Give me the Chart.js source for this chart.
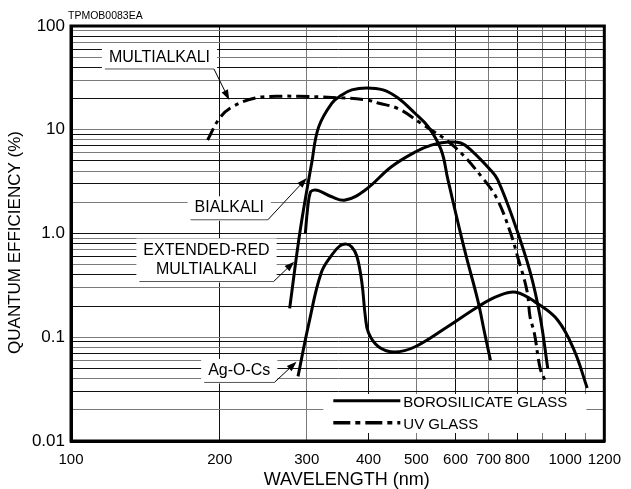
<!DOCTYPE html>
<html>
<head>
<meta charset="utf-8">
<script src="https://cdn.jsdelivr.net/npm/chart.js@4.4.1/dist/chart.umd.min.js"></script>
<style>
  html, body { margin: 0; padding: 0; background: #fff; }
</style>
</head>
<body>
<canvas id="chartQE" width="631" height="489"></canvas>
<script>
"use strict";

// Valores: longitud de onda (nm) y eficiencia cuántica (%)
const bialkaliWl = [277, 291, 307, 317, 337, 353, 370, 396, 428, 459, 496, 528, 561, 579, 626, 665, 687, 706];
const bialkaliQe = [0.19, 1.08, 4.8, 10.6, 18.0, 21.6, 24.2, 25.3, 24.2, 20.2, 14.5, 10.7, 6.4, 3.3, 0.69, 0.23, 0.11, 0.06];

const extRedWl = [298, 301, 305, 310, 317, 337, 359, 394, 445, 497, 536, 580, 615, 644, 706, 730, 789, 850, 890, 922];
const extRedQe = [1.0, 1.7, 2.5, 2.62, 2.59, 2.26, 2.1, 2.63, 4.4, 6.1, 7.1, 7.6, 7.45, 6.4, 4.1, 3.3, 1.27, 0.42, 0.157, 0.05];

const agocsWl = [288, 303, 321, 337, 350, 361, 370, 379, 388, 394, 400, 419, 452, 497, 579, 665, 730, 795, 880, 966, 1042, 1108];
const agocsQe = [0.042, 0.137, 0.42, 0.62, 0.76, 0.79, 0.74, 0.6, 0.33, 0.16, 0.11, 0.081, 0.072, 0.081, 0.127, 0.196, 0.249, 0.272, 0.21, 0.146, 0.0755, 0.0324];

const multiUvWl = [189, 200, 212, 236, 260, 289, 337, 396, 420, 459, 511, 596, 686, 730, 776, 801, 837, 849, 866, 890, 909];
const multiUvQe = [7.96, 13.0, 16.6, 20.2, 21.0, 21.0, 20.5, 19.4, 18.0, 16.0, 11.5, 6.9, 3.27, 2.1, 1.0, 0.6, 0.28, 0.157, 0.11, 0.05, 0.039];

// Ejes
const xGrid = [100, 200, 300, 400, 500, 600, 700, 800, 900, 1000, 1100, 1200];
const xTickLabels = [100, 200, 300, 400, 500, 600, 700, 800, 1000, 1200];
const yTickValues = [0.01, 0.1, 1, 10, 100];
const yTickLabels = ["0.01", "0.1", "1.0", "10", "100"];

// Textos
const xTitle = "WAVELENGTH (nm)";
const yTitle = "QUANTUM EFFICIENCY (%)";
const noteTexts = [["MULTIALKALI"], ["BIALKALI"], ["EXTENDED-RED", "MULTIALKALI"], ["Ag-O-Cs"]];
const glassNames = ["BOROSILICATE GLASS", "UV GLASS"];
const figCode = "TPMOB0083EA";

const FONT = '"Liberation Sans", Arial, Helvetica, sans-serif';
const UV_DASH = [13, 5, 4, 5];

// lineas de grilla 1..9 x 10^n
const yGrid = [];
for (let e = -2; e <= 1; e++) {
  for (let s = 1; s <= 9; s++) yGrid.push(Number((s * Math.pow(10, e)).toPrecision(3)));
}
yGrid.push(100);

function toPoints(wl, qe) {
  return wl.map((w, i) => ({ x: w, y: qe[i] }));
}

function curve(wl, qe, dash) {
  return {
    data: toPoints(wl, qe),
    borderColor: "#000",
    borderWidth: 3,
    borderDash: dash || [],
    pointRadius: 0,
    tension: 0.4,
    fill: false,
  };
}

// posiciones de las notas (en unidades de datos: nm, %)
const notePlaces = [
  { at: [151, 50], tip: [209, 19.4] },
  { at: [209, 1.76], tip: [300, 3.43] },
  { at: [188, 0.555], tip: [283, 0.535] },
  { at: [219, 0.0476], tip: [286, 0.058] },
];

function arrow(ctx, x0, y0, x1, y1) {
  const a = Math.atan2(y1 - y0, x1 - x0);
  const len = 10, half = 3.5;
  const bx = x1 - Math.cos(a) * len, by = y1 - Math.sin(a) * len;
  ctx.beginPath();
  ctx.moveTo(x0, y0);
  ctx.lineTo(bx, by);
  ctx.lineWidth = 1;
  ctx.strokeStyle = "#000";
  ctx.stroke();
  ctx.beginPath();
  ctx.moveTo(x1, y1);
  ctx.lineTo(bx - Math.sin(a) * half, by + Math.cos(a) * half);
  ctx.lineTo(bx + Math.sin(a) * half, by - Math.cos(a) * half);
  ctx.closePath();
  ctx.fillStyle = "#000";
  ctx.fill();
}

const notesPlugin = {
  id: "notes",
  beforeDatasetsDraw(chart) {
    const { ctx, chartArea: ca } = chart;
    const xs = chart.scales.x, ys = chart.scales.y;
    ctx.save();

    // Notas con flecha
    ctx.font = "16px " + FONT;
    const lh = 19.5;
    noteTexts.forEach((lines, i) => {
      const p = notePlaces[i];
      const cx = xs.getPixelForValue(p.at[0]);
      const cy = ys.getPixelForValue(p.at[1]);
      const w = Math.max(...lines.map(t => ctx.measureText(t).width));
      const top = cy - (lines.length * lh) / 2;
      const uy = top + lines.length * lh + 2;
      const ux0 = cx - w / 2 - 4, ux1 = cx + w / 2 + 4;

      ctx.fillStyle = "#fff";
      ctx.fillRect(ux0 - 3, top - 2, ux1 - ux0 + 6, uy - top + 3);

      ctx.fillStyle = "#000";
      ctx.textAlign = "center";
      ctx.textBaseline = "middle";
      lines.forEach((t, k) => ctx.fillText(t, cx, top + lh * k + lh / 2));

      ctx.beginPath();
      ctx.moveTo(ux0, uy);
      ctx.lineTo(ux1, uy);
      ctx.lineWidth = 1;
      ctx.strokeStyle = "#555";
      ctx.stroke();

      arrow(ctx, ux1, uy, xs.getPixelForValue(p.tip[0]), ys.getPixelForValue(p.tip[1]));
    });

    // Leyenda (tipo de vidrio)
    const bx = ca.right - 281, by = ca.bottom - 47;
    ctx.fillStyle = "#fff";
    ctx.fillRect(bx, by, 263, 39);
    ctx.font = "15px " + FONT;
    ctx.textAlign = "left";
    ctx.textBaseline = "middle";
    glassNames.forEach((name, i) => {
      const ly = by + 6.7 + i * 22;
      ctx.beginPath();
      ctx.setLineDash(i === 0 ? [] : [17, 5, 5, 5]);
      ctx.moveTo(bx + 10, ly);
      ctx.lineTo(bx + 77, ly);
      ctx.lineWidth = i === 0 ? 3 : 3.5;
      ctx.strokeStyle = "#000";
      ctx.stroke();
      ctx.setLineDash([]);
      ctx.fillStyle = "#000";
      ctx.fillText(name, bx + 80, ly + 2);
    });

    ctx.restore();
  },
  afterDraw(chart) {
    const { ctx, chartArea: ca } = chart;
    ctx.save();
    ctx.lineWidth = 3;
    ctx.strokeStyle = "#000";
    ctx.strokeRect(ca.left, ca.top, ca.right - ca.left, ca.bottom - ca.top);

    ctx.fillStyle = "#000";
    ctx.textBaseline = "middle";
    ctx.font = "10.5px " + FONT;
    ctx.textAlign = "left";
    ctx.fillText(figCode, 68, 16);

    // titulos de los ejes
    ctx.textAlign = "center";
    ctx.font = "18px " + FONT;
    ctx.fillText(xTitle, (ca.left + ca.right) / 2 + 9, 480);
    ctx.font = "17px " + FONT;
    ctx.translate(15, (ca.top + ca.bottom) / 2 + 9);
    ctx.rotate(-Math.PI / 2);
    ctx.fillText(yTitle, 0, 0);
    ctx.restore();
  },
};

const chart = new Chart(document.getElementById("chartQE"), {
  type: "line",
  data: {
    datasets: [
      curve(bialkaliWl, bialkaliQe),
      curve(extRedWl, extRedQe),
      curve(agocsWl, agocsQe),
      curve(multiUvWl, multiUvQe, UV_DASH),
    ],
  },
  options: {
    responsive: false,
    animation: false,
    devicePixelRatio: 1,
    layout: { padding: { top: 26, right: 20, left: 0, bottom: 0 } },
    plugins: {
      legend: { display: false },
      tooltip: { enabled: false },
    },
    scales: {
      x: {
        type: "logarithmic",
        min: 100,
        max: 1200,
        afterBuildTicks: (s) => { s.ticks = xGrid.map(v => ({ value: v })); },
        afterFit: (s) => { s.height = 48; },
        grid: {
          drawTicks: false,
          color: (c) => (c.index % 2 ? "#111" : "#7a7a7a"),
          lineWidth: 1,
        },
        border: { display: true, color: "#000", width: 3 },
        ticks: {
          autoSkip: false,
          maxRotation: 0,
          padding: 10,
          color: "#000",
          font: { family: FONT, size: 15 },
          callback: (v) => (xTickLabels.includes(v) ? String(v) : ""),
        },
      },
      y: {
        type: "logarithmic",
        min: 0.01,
        max: 100,
        afterBuildTicks: (s) => { s.ticks = yGrid.map(v => ({ value: v })); },
        afterFit: (s) => { s.width = 71; },
        grid: {
          drawTicks: false,
          color: (c) => (c.index % 2 ? "#7a7a7a" : "#111"),
          lineWidth: 1,
        },
        border: { display: true, color: "#000", width: 3 },
        ticks: {
          autoSkip: false,
          padding: 6,
          color: "#000",
          font: { family: FONT, size: 17 },
          callback: (v) => {
            const i = yTickValues.findIndex(t => Math.abs(t - v) / t < 1e-6);
            return i >= 0 ? yTickLabels[i] : "";
          },
        },
      },
    },
  },
  plugins: [notesPlugin],
});
</script>
</body>
</html>
